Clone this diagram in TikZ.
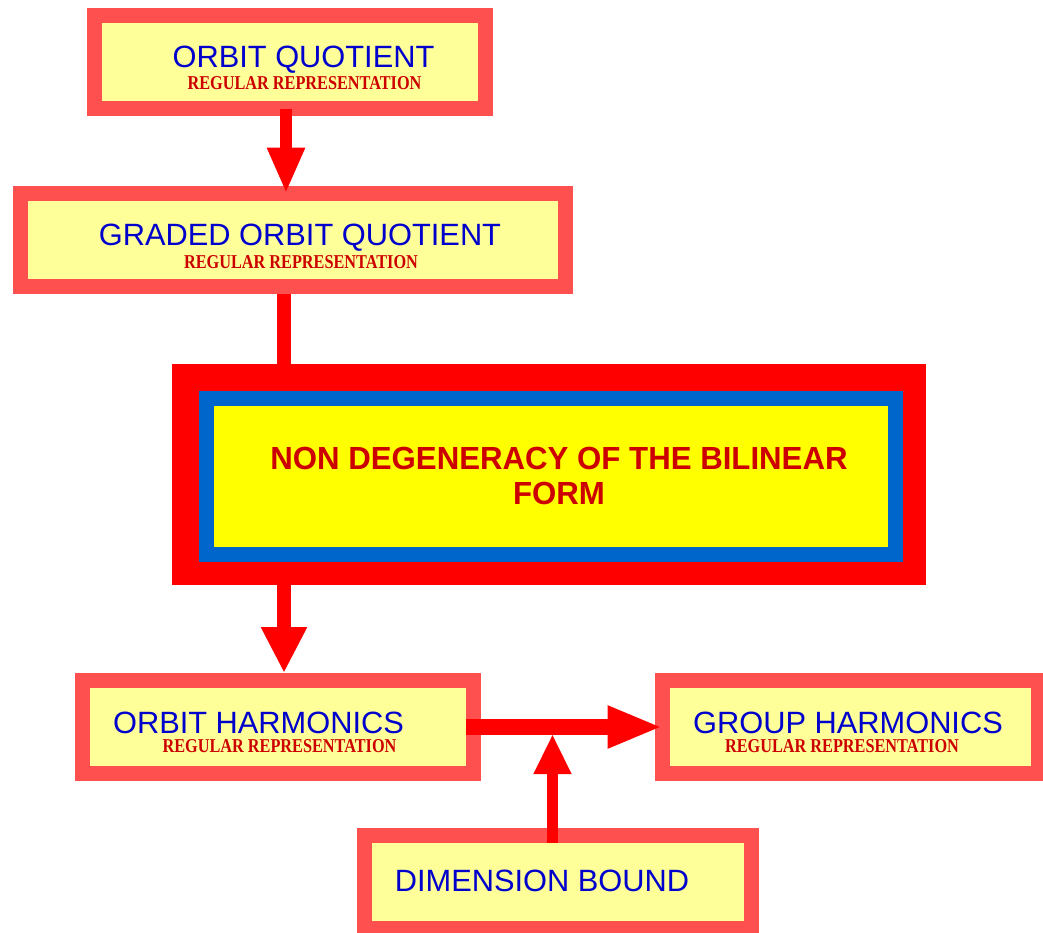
\documentclass[tikz,border=0pt]{standalone}
\usepackage{fontspec}
\usepackage{tikz}
\usetikzlibrary{arrows.meta,shapes}
\newfontfamily\boxfont{Liberation Sans}
\newfontfamily\repfont[FakeStretch=0.83]{Liberation Serif}
\newfontfamily\headfont[FakeStretch=0.975]{Liberation Sans}
\definecolor{boxred}{RGB}{255,80,80}
\definecolor{boxyellow}{RGB}{255,255,153}
\definecolor{textblue}{RGB}{0,0,204}
\definecolor{textred}{RGB}{204,0,0}
\definecolor{arrred}{RGB}{255,0,0}
\definecolor{coreblue}{RGB}{0,102,204}
\definecolor{coreyellow}{RGB}{255,255,0}
\tikzstyle{box}=[rectangle,draw=boxred,fill=boxyellow,line width=7.5pt,outer sep=0pt,minimum height=46.5pt]
\tikzstyle{bigframe}=[rectangle,draw=arrred,line width=13.5pt,outer sep=0pt,minimum width=363.5pt,minimum height=97pt]
\tikzstyle{bigcore}=[rectangle,draw=coreblue,fill=coreyellow,line width=7.5pt,outer sep=0pt,minimum width=344.5pt,minimum height=78pt]
\tikzstyle{boxtitle}=[anchor=base,inner sep=0pt,text=textblue,font=\boxfont\fontsize{15.4}{18}\selectfont]
\tikzstyle{boxnote}=[anchor=base,inner sep=0pt,text=textred,font=\repfont\bfseries\fontsize{9.8}{11}\selectfont]
\tikzstyle{headtext}=[align=center,inner sep=0pt,text=textred,font=\headfont\bfseries\fontsize{16}{17.5}\selectfont]
\tikzstyle{arr}=[draw=arrred,line cap=butt]

\begin{document}
\begin{tikzpicture}[x=0.5pt,y=-0.5pt]
  \useasboundingbox (0,0) rectangle (1043,932);

  \node[box,minimum width=195.5pt] (oq) at (290,62) {};
  \node[boxtitle] (oq-t) at (303.5,67) {ORBIT QUOTIENT};
  \node[boxnote]  (oq-n) at (304.5,89) {REGULAR REPRESENTATION};

  \node[box,minimum width=272.5pt] (goq) at (293,240) {};
  \node[boxtitle] (goq-t) at (300,245) {GRADED ORBIT QUOTIENT};
  \node[boxnote]  (goq-n) at (301,268) {REGULAR REPRESENTATION};
  \path ([xshift=-2pt]oq.south)
        edge[arr,line width=6pt,-{Triangle[length=23pt,width=17.5pt]}] ([xshift=-3.5pt]goq.north);

  \node[bigframe] (nd-f) at (549,474.5) {};
  \node[bigcore]  (nd) at (551,476.5) {};
  \node[headtext] (nd-t) at (559,476) {NON DEGENERACY OF THE BILINEAR\\FORM};
  \path ([xshift=-4.5pt]goq.south)
        edge[arr,line width=7pt,shorten <=3.75pt] ([xshift=-132.5pt]nd-f.north);

  \node[box,minimum width=195.5pt] (oh) at (278,727) {};
  \node[boxtitle] (oh-t) at (258.5,733) {ORBIT HARMONICS};
  \node[boxnote]  (oh-n) at (279.5,752) {REGULAR REPRESENTATION};
  \path ([xshift=-132.5pt]nd-f.south)
        edge[arr,line width=7pt,shorten >=3.75pt,-{Triangle[length=23pt,width=21.5pt]}] ([xshift=3pt]oh.north);

  \node[box,minimum width=188pt] (gh) at (850.5,727) {};
  \node[boxtitle] (gh-t) at (848,733) {GROUP HARMONICS};
  \node[boxnote]  (gh-n) at (842,752) {REGULAR REPRESENTATION};
  \path ([xshift=-3.75pt]oh.east)
        edge[arr,line width=8pt,-{Triangle[length=27.5pt,width=19.5pt]}] (gh.west);

  \node[box,minimum width=193.5pt] (db) at (558,881.5) {};
  \node[boxtitle] (db-t) at (542,891) {DIMENSION BOUND};
  \coordinate (jn) at (552.5,734);
  \path ([xshift=-2.75pt,yshift=-3.75pt]db.north)
        edge[arr,line width=5.75pt,-{Triangle[length=20pt,width=17.5pt]}] (jn);
\end{tikzpicture}
\end{document}
